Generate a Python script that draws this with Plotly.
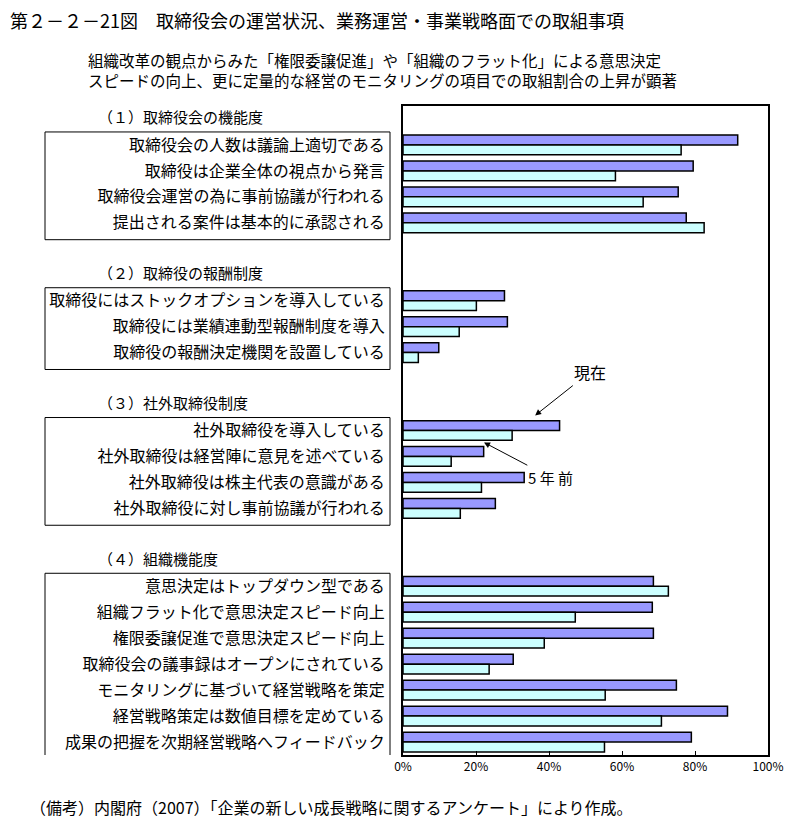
import plotly.graph_objects as go

FONT = "Noto Sans CJK JP"

title_text = "第２－２－21図　取締役会の運営状況、業務運営・事業戦略面での取組事項"
subtitle_lines = [
    "組織改革の観点からみた「権限委譲促進」や「組織のフラット化」による意思決定",
    "スピードの向上、更に定量的な経営のモニタリングの項目での取組割合の上昇が顕著",
]
note_text = "（備考）内閣府（2007）「企業の新しい成長戦略に関するアンケート」により作成。"

section_titles = ["（１）取締役会の機能度", "（２）取締役の報酬制度", "（３）社外取締役制度", "（４）組織機能度"]

items1 = ["取締役会の人数は議論上適切である", "取締役は企業全体の視点から発言",
          "取締役会運営の為に事前協議が行われる", "提出される案件は基本的に承認される"]
now1 = [91.7, 79.5, 75.4, 77.6]
past1 = [76.2, 58.2, 65.8, 82.5]

items2 = ["取締役にはストックオプションを導入している", "取締役には業績連動型報酬制度を導入",
          "取締役の報酬決定機関を設置している"]
now2 = [27.8, 28.6, 9.8]
past2 = [20.1, 15.4, 4.2]

items3 = ["社外取締役を導入している", "社外取締役は経営陣に意見を述べている",
          "社外取締役は株主代表の意識がある", "社外取締役に対し事前協議が行われる"]
now3 = [42.9, 22.1, 33.2, 25.3]
past3 = [29.9, 13.2, 21.5, 15.7]

items4 = ["意思決定はトップダウン型である", "組織フラット化で意思決定スピード向上",
          "権限委譲促進で意思決定スピード向上", "取締役会の議事録はオープンにされている",
          "モニタリングに基づいて経営戦略を策定", "経営戦略策定は数値目標を定めている",
          "成果の把握を次期経営戦略へフィードバック"]
now4 = [68.6, 68.3, 68.6, 30.2, 74.9, 88.9, 79.0]
past4 = [72.7, 47.2, 38.7, 23.6, 55.4, 70.8, 55.2]

x_ticks = [0, 20, 40, 60, 80, 100]
series_names = ["現在", "5 年 前"]

sections = [(items1, now1, past1), (items2, now2, past2), (items3, now3, past3), (items4, now4, past4)]

slots = []
header_idx = []
box_ranges = []
all_items, all_now, all_past = [], [], []
for k, (its, nw, ps) in enumerate(sections):
    header_idx.append(len(slots))
    slots.append(f"_h{k}")
    start = len(slots)
    slots.extend(its)
    box_ranges.append((start, len(slots) - 1))
    if k < len(sections) - 1:
        slots.append(f"_g{k}")
    all_items += its
    all_now += nw
    all_past += ps

fig = go.Figure()
fig.add_trace(go.Bar(y=all_items, x=all_now, orientation="h", name=series_names[0],
                     marker=dict(color="#9999FF", line=dict(color="black", width=1.5))))
fig.add_trace(go.Bar(y=all_items, x=all_past, orientation="h", name=series_names[1],
                     marker=dict(color="#CCFFFF", line=dict(color="black", width=1.5))))

# page layout (page pixels); the page body has an 8px margin
OFF = 8
W, H = 806 - 2 * OFF, 830 - 2 * OFF
L, R, T, B = 403 - OFF, 768 - OFF, 106 - OFF, 755 - OFF
pw, ph = R - L, B - T

def px(xp):
    return (xp - OFF - L) / pw

def py(yp):
    return (B - (yp - OFF)) / ph

shapes = []
for (a, b) in box_ranges:
    shapes.append(dict(type="rect", xref="paper", yref="y",
                       x0=px(45), x1=px(390),
                       y0=a - 0.5, y1=b + 0.65,
                       line=dict(color="black", width=1), fillcolor="rgba(0,0,0,0)", layer="above"))

annotations = []
for k, hi in enumerate(header_idx):
    annotations.append(dict(text=section_titles[k], xref="paper", yref="y",
                            x=px(96), y=hi - 0.08, xanchor="left", yanchor="middle",
                            showarrow=False, font=dict(size=15, color="black", family=FONT)))

annotations.append(dict(text=title_text, xref="paper", yref="paper",
                        x=px(8), y=py(20), xanchor="left", yanchor="middle",
                        showarrow=False, font=dict(size=18, color="black", family=FONT)))
annotations.append(dict(text="<br>".join(subtitle_lines), xref="paper", yref="paper",
                        x=px(86), y=py(70), xanchor="left", yanchor="middle", align="left",
                        showarrow=False, font=dict(size=15.5, color="black", family=FONT)))
annotations.append(dict(text=note_text, xref="paper", yref="paper",
                        x=px(28), y=py(807), xanchor="left", yanchor="middle",
                        showarrow=False, font=dict(size=16, color="black", family=FONT)))

i_now = slots.index(items3[0])
annotations.append(dict(text=series_names[0], x=36.2, y=i_now - 0.58, xref="x", yref="y",
                        ax=51.2, ay=i_now - 2.25, axref="x", ayref="y",
                        showarrow=True, arrowhead=2, arrowsize=1.2, arrowwidth=1, arrowcolor="black",
                        font=dict(size=16, color="black", family=FONT)))
annotations.append(dict(text=series_names[1], x=22.2, y=i_now + 0.46, xref="x", yref="y",
                        ax=40.3, ay=i_now + 1.8, axref="x", ayref="y",
                        showarrow=True, arrowhead=2, arrowsize=1.2, arrowwidth=1, arrowcolor="black",
                        font=dict(size=15, color="black", family=FONT)))

fig.update_layout(
    width=W, height=H,
    margin=dict(l=L, r=W - R, t=T, b=H - B, pad=0),
    paper_bgcolor="white", plot_bgcolor="white",
    barmode="group", bargap=0.24, bargroupgap=0,
    showlegend=False,
    shapes=shapes, annotations=annotations,
    font=dict(family=FONT, color="black"),
)
fig.update_xaxes(range=[0, 100], tickvals=x_ticks, ticktext=[f"{v}%" for v in x_ticks],
                 ticks="inside", ticklen=4, tickcolor="black", tickwidth=1,
                 showgrid=False, zeroline=False,
                 showline=True, linewidth=2, linecolor="black", mirror=True,
                 tickfont=dict(size=12, family=FONT, color="black"), fixedrange=True)
fig.update_yaxes(type="category", categoryorder="array", categoryarray=slots,
                 range=[len(slots) - 0.5, -0.5],
                 tickvals=all_items, ticktext=all_items, ticks="",
                 ticklabelstandoff=13,
                 showgrid=False, zeroline=False,
                 showline=True, linewidth=2, linecolor="black", mirror=True,
                 tickfont=dict(size=16, family=FONT, color="black"), fixedrange=True)

fig.write_html("out.html")
